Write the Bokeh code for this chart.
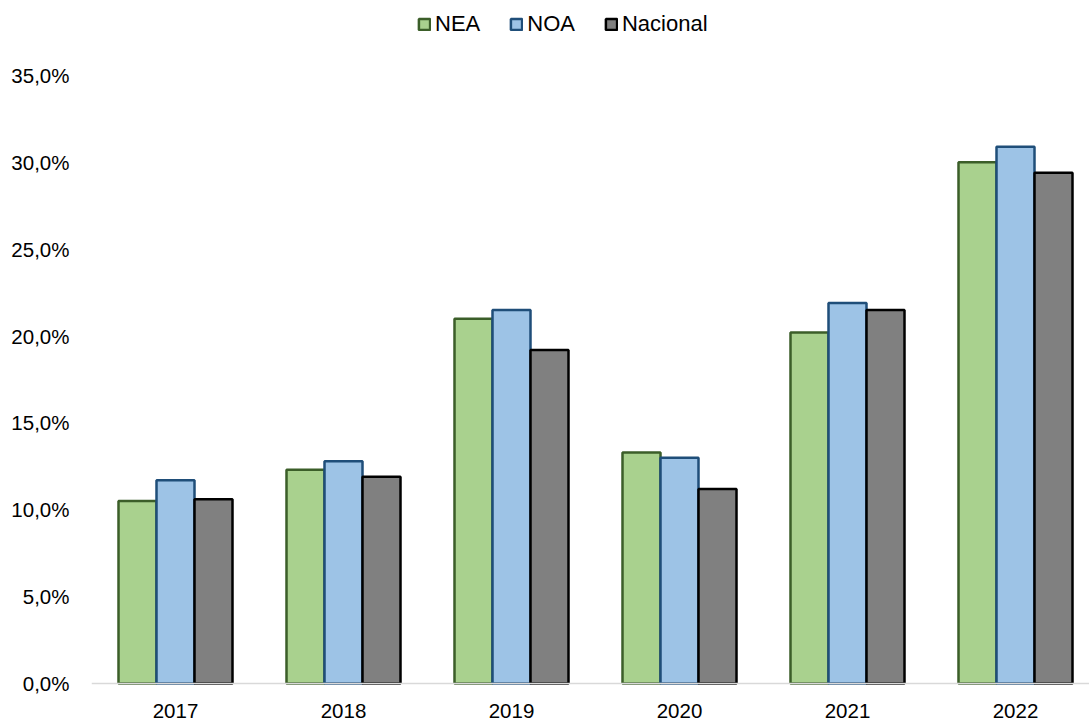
from bokeh.plotting import figure
from bokeh.models import ColumnDataSource, FixedTicker, Range1d, Legend, LegendItem
from bokeh.transform import dodge
from bokeh.embed import file_html
from bokeh.resources import INLINE

years = ["2017", "2018", "2019", "2020", "2021", "2022"]
nea = [10.5, 12.3, 21.0, 13.3, 20.2, 30.0]
noa = [11.7, 12.8, 21.5, 13.0, 21.9, 30.9]
nacional = [10.6, 11.9, 19.2, 11.2, 21.5, 29.4]
y_ticks = [0, 5, 10, 15, 20, 25, 30, 35]
y_tick_labels = ["0,0%", "5,0%", "10,0%", "15,0%", "20,0%", "25,0%", "30,0%", "35,0%"]

xs = list(range(len(years)))
src = ColumnDataSource(dict(x=xs, nea=nea, noa=noa, nacional=nacional))

W, H = 1089, 725
LEFT = 91
px_per_unit = (683 - 75) / 35.0
y_start = -(H - 683) / px_per_unit
y_end = y_start + H / px_per_unit

p = figure(width=W, height=H, output_backend="svg", toolbar_location=None,
           x_range=Range1d(-0.5, -0.5 + (W - LEFT) / 168), y_range=Range1d(y_start, y_end),
           min_border_left=LEFT, min_border_right=0, min_border_top=0, min_border_bottom=0)
p.outline_line_color = None
p.grid.visible = False
p.background_fill_color = "white"

bw = 38 / 168
r1 = p.vbar(x=dodge("x", -bw, range=p.x_range), top="nea", bottom=0, width=bw, source=src,
            fill_color="#A9D18E", line_color="#3B5E29", line_width=2.5)
r2 = p.vbar(x=dodge("x", 0, range=p.x_range), top="noa", bottom=0, width=bw, source=src,
            fill_color="#9DC3E6", line_color="#1F4E79", line_width=2.5)
r3 = p.vbar(x=dodge("x", bw, range=p.x_range), top="nacional", bottom=0, width=bw, source=src,
            fill_color="#808080", line_color="#000000", line_width=2.5)

font = "Liberation Sans"
xa = p.xaxis[0]
xa.fixed_location = 0
xa.ticker = FixedTicker(ticks=xs)
xa.major_label_overrides = {i: y for i, y in enumerate(years)}
xa.axis_line_color = "#D9D9D9"
xa.axis_line_width = 1.5
xa.major_tick_line_color = None
xa.minor_tick_line_color = None
xa.major_label_standoff = 14
xa.major_label_text_font = font
xa.major_label_text_font_size = "20.5px"
xa.major_label_text_color = "#000000"

ya = p.yaxis[0]
ya.ticker = FixedTicker(ticks=y_ticks)
ya.major_label_overrides = {t: l for t, l in zip(y_ticks, y_tick_labels)}
ya.axis_line_color = None
ya.major_tick_line_color = None
ya.minor_tick_line_color = None
ya.major_label_standoff = 16
ya.major_label_text_font = font
ya.major_label_text_font_size = "20.5px"
ya.major_label_text_color = "#000000"

legend = Legend(items=[LegendItem(label="NEA", renderers=[r1]),
                       LegendItem(label="NOA", renderers=[r2]),
                       LegendItem(label="Nacional", renderers=[r3])],
                location=(326, 688), orientation="horizontal",
                border_line_color=None, background_fill_alpha=0,
                label_text_font=font, label_text_font_size="22px",
                label_text_color="#000000", label_height=24,
                glyph_width=14, glyph_height=14, spacing=29, label_standoff=4,
                padding=4, margin=0)
p.add_layout(legend, "center")

open("out.html", "w").write(file_html(p, INLINE))
